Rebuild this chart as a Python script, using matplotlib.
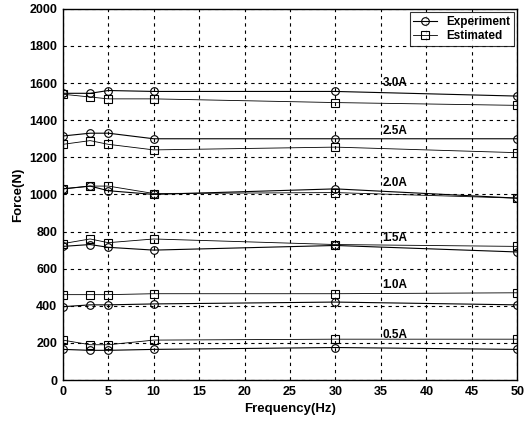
import matplotlib.pyplot as plt

# Force vs frequency for several coil currents
freq = [0, 3, 5, 10, 30, 50]
currents = ["0.5A", "1.0A", "1.5A", "2.0A", "2.5A", "3.0A"]

experiment = [
    [165, 160, 160, 165, 175, 165],
    [395, 405, 405, 410, 420, 405],
    [720, 730, 715, 700, 725, 690],
    [1030, 1045, 1020, 1000, 1030, 980],
    [1315, 1330, 1330, 1300, 1300, 1300],
    [1545, 1545, 1560, 1555, 1555, 1530],
]
estimated = [
    [215, 190, 190, 215, 220, 220],
    [460, 460, 460, 465, 465, 470],
    [735, 760, 740, 760, 730, 720],
    [1030, 1045, 1045, 1005, 1010, 980],
    [1270, 1290, 1270, 1240, 1255, 1225],
    [1540, 1525, 1515, 1515, 1495, 1480],
]
label_y = [245, 510, 765, 1062, 1342, 1600]

plt.rcParams['font.family'] = ['Liberation Sans', 'DejaVu Sans']
plt.rcParams['font.weight'] = 'bold'

fig = plt.figure(figsize=(5.24, 4.22), dpi=100)
ax = fig.add_axes([0.120, 0.0995, 0.867, 0.8795])

for i in range(len(currents)):
    ax.plot(freq, experiment[i], color='black', lw=0.8, marker='o', ms=5.5,
            mfc='none', mec='black', mew=0.8,
            label='Experiment' if i == 0 else None)
    ax.plot(freq, estimated[i], color='black', lw=0.6, marker='s', ms=5.5,
            mfc='none', mec='black', mew=0.8,
            label='Estimated' if i == 0 else None)
    ax.text(35.2, label_y[i], currents[i], fontsize=8.5, fontweight='bold',
            ha='left', va='center')

ax.set_xlim(0, 50)
ax.set_ylim(0, 2000)
ax.set_xticks(range(0, 51, 5))
ax.set_yticks(range(0, 2001, 200))
ax.grid(True, color='black', linestyle=(0, (3, 3.5)), linewidth=0.8)
ax.tick_params(labelsize=9, length=0, pad=4)
for lab in ax.get_xticklabels() + ax.get_yticklabels():
    lab.set_fontweight('bold')
for sp in ax.spines.values():
    sp.set_linewidth(1.0)

ax.set_xlabel('Frequency(Hz)', fontsize=9.5, fontweight='bold')
ax.set_ylabel('Force(N)', fontsize=9.5, fontweight='bold')

leg = ax.legend(loc='upper right', fontsize=8.5, frameon=True, fancybox=False,
                edgecolor='black', borderaxespad=0.3, handlelength=2.0,
                labelspacing=0.2, borderpad=0.3)
leg.get_frame().set_linewidth(0.8)
for t in leg.get_texts():
    t.set_fontweight('bold')

fig.savefig('out.png', dpi=100)
